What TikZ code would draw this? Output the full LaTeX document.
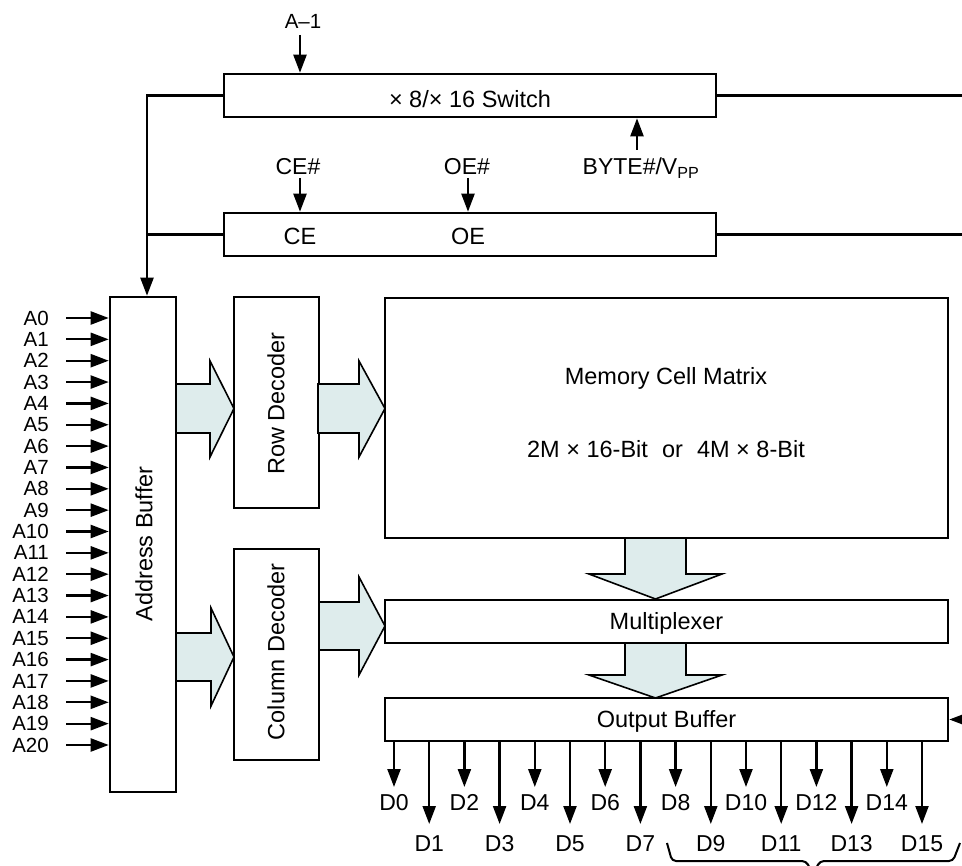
\documentclass[tikz,border=0pt]{standalone}
\usepackage{fontspec}
\setmainfont{Liberation Sans}
\usetikzlibrary{arrows.meta,calc}
\definecolor{fat}{RGB}{222,236,236}
\newcommand\fsz{\fontsize{23.5}{27}\selectfont}
\newcommand\psz{\fontsize{23}{27}\selectfont}
\newcommand\asz{\fontsize{20.5}{24}\selectfont}
\begin{document}
\begin{tikzpicture}[x=1pt,y=-1pt,
  box/.style={draw, line width=2.6pt, inner sep=0pt, fill=white},
  sig/.style={line width=2.3pt, -{Triangle[length=18pt,width=13pt]}},
  wire/.style={line width=2.3pt},
  fatarrow/.style={draw, line width=1.6pt, fill=fat, line join=miter},
  lbl/.style={inner sep=0pt, font=\fsz},
  pin/.style={inner sep=0pt, font=\psz},
  apin/.style={inner sep=0pt, font=\asz}]
\useasboundingbox (0,0) rectangle (962,866);
\clip (0,0) rectangle (962,866);

% boxes
\node[box, minimum width=492, minimum height=43] (sw) at (470,95.5) {};
\node[box, minimum width=492, minimum height=43] (ce) at (470,234.5) {};
\node[box, minimum width=66, minimum height=495] (ab) at (143,544.5) {};
\node[box, minimum width=85, minimum height=211] (rd) at (276.5,402.5) {};
\node[box, minimum width=85, minimum height=211] (cd) at (276.5,654.5) {};
\node[box, minimum width=563, minimum height=240] (mx) at (666.5,418) {};
\node[box, minimum width=563, minimum height=43] (mux) at (666.5,621.5) {};
\node[box, minimum width=563, minimum height=43] (ob) at (666.5,719.5) {};

% box texts
\node[lbl, anchor=base] (swt) at (470,108) {× 8/× 16 Switch};
\node[lbl, anchor=base] (cet) at (300,245) {CE};
\node[lbl, anchor=base] (oet) at (468,245) {OE};
\node[lbl, rotate=90] (abt) at (144,544) {Address Buffer};
\node[lbl, rotate=90] (rdt) at (276,403.5) {Row Decoder};
\node[lbl, rotate=90] (cdt) at (276,652) {Column Decoder};
\node[lbl, anchor=base] (mxt1) at (666,385) {Memory Cell Matrix};
\node[lbl, anchor=base] (mxt2) at (666,458) {2M × 16-Bit\hspace{0.6em}or\hspace{0.6em}4M × 8-Bit};
\node[lbl, anchor=base] (muxt) at (666.5,629.5) {Multiplexer};
\node[lbl, anchor=base] (obt) at (666.5,727.5) {Output Buffer};

% top control signals
\node[apin, anchor=base] (am1) at (303,29) {A–1};
\coordinate (am1s) at (300,35);
\draw[sig] (am1s) -- (am1s |- sw.north);

\node[pin, anchor=base] (cen) at (298,175) {CE\#};
\coordinate (cens) at (300,178);
\draw[sig] (cens) -- (cens |- ce.north);
\node[pin, anchor=base] (oen) at (467,175) {OE\#};
\coordinate (oens) at (468,178);
\draw[sig] (oens) -- (oens |- ce.north);

\node[pin, anchor=base] (byte) at (641,175) {BYTE\#/V\textsubscript{PP}};
\coordinate (bytes) at (637,150);
\draw[sig] (bytes) -- (bytes |- sw.south);

% left bus
\coordinate (bus) at (147,0);
\draw[sig] (sw.west) -| (bus |- ab.north);
\draw[wire] (ce.west) -- (ce.west -| bus);

% right lines
\coordinate (redge) at (962,0);
\draw[wire] (sw.east) -- (sw.east -| redge);
\draw[wire] (ce.east) -- (ce.east -| redge);
\coordinate (obin) at (962,719.5);
\draw[sig] (obin) -- (ob.east);

% address pins
\foreach \i in {0,...,20} {
  \pgfmathsetmacro\yy{318+21.35*\i}
  \node[apin, anchor=east] (al\i) at (49,\yy) {A\i};
  \coordinate (as\i) at (66,\yy);
  \draw[sig] (as\i) -- (as\i -| ab.west);
}

% data pins
\foreach \i in {0,...,15} {
  \pgfmathsetmacro\xx{394+35.2*\i}
  \pgfmathsetmacro\tip{mod(\i,2)==1 ? 824 : 787}
  \pgfmathsetmacro\bl{mod(\i,2)==1 ? 851 : 810}
  \coordinate (d\i) at (\xx,\tip);
  \draw[sig] (ob.south -| d\i) -- (d\i);
  \node[pin, anchor=base] (dl\i) at (\xx,\bl) {D\i};
}

% fat arrows
\draw[fatarrow] (176,384) -- (210,384) -- (210,361) -- (234,408.5) -- (210,457) -- (210,433) -- (176,433) -- cycle;
\draw[fatarrow] (318,384) -- (359,384) -- (359,361) -- (385,408.5) -- (359,457) -- (359,433) -- (318,433) -- cycle;
\draw[fatarrow] (176,633) -- (211,633) -- (211,608) -- (234,657) -- (211,706) -- (211,681) -- (176,681) -- cycle;
\draw[fatarrow] (319,602) -- (359,602) -- (359,577) -- (385,626) -- (359,675) -- (359,650) -- (319,650) -- cycle;
\draw[fatarrow] (625,538) -- (625,574) -- (589,574) -- (655.5,599) -- (722,574) -- (686,574) -- (686,538) -- cycle;
\draw[fatarrow] (625,643) -- (625,675) -- (589,675) -- (655.5,698) -- (722,675) -- (686,675) -- (686,643) -- cycle;

% brace
\draw[line width=2pt, rounded corners=4pt] (667,843) -- (672,861) -- (806,861) -- (813,874);
\draw[line width=2pt, rounded corners=4pt] (813,874) -- (820,861) -- (953,861) -- (960,843);
\end{tikzpicture}
\end{document}
